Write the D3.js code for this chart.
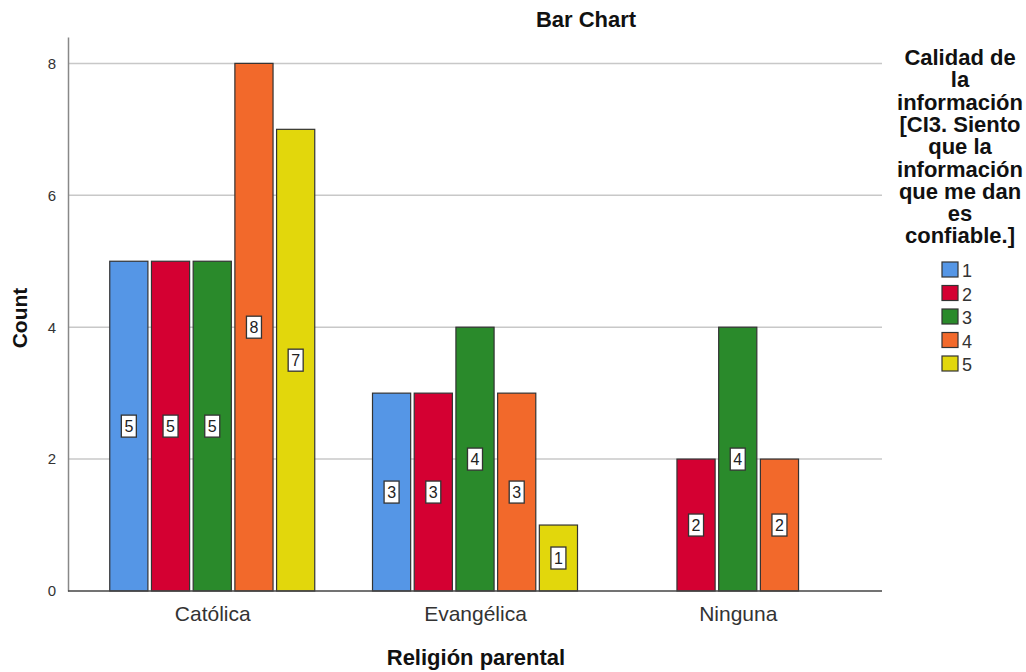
<!DOCTYPE html>
<html><head><meta charset="utf-8">
<script src="https://cdn.jsdelivr.net/npm/d3@7"></script>
<style>body{margin:0;background:#fff;font-family:Arial,"Liberation Sans",sans-serif}</style>
</head><body><svg id="c" width="1026" height="672"></svg>
<script>
const categories = ["Católica", "Evangélica", "Ninguna"];
const seriesKeys = ["1", "2", "3", "4", "5"];
const val1 = [5, 3, 0];
const val2 = [5, 3, 2];
const val3 = [5, 4, 4];
const val4 = [8, 3, 2];
const val5 = [7, 1, 0];
const colors = ["#5596E6", "#D40032", "#2A8A2B", "#F2692B", "#E2D70C"];
const yTicks = [0, 2, 4, 6, 8];
const legendTitle = ["Calidad de", "la", "información", "[CI3. Siento", "que la", "información", "que me dan", "es", "confiable.]"];

const FF = "Arial, 'Liberation Sans', sans-serif";
const values = [val1, val2, val3, val4, val5];
const svg = d3.select("#c");
const L = 68, R = 882, T = 37, B = 591;

const y = d3.scaleLinear().domain([0, 8.4]).range([B, T]);
const x = d3.scalePoint().domain(categories).range([L, R]).padding(0.549);
const sub = d3.scaleBand().domain(seriesKeys).range([-102.5, 102.5]).paddingInner(0.085);

// grid
svg.append("g").selectAll("line").data(yTicks.filter(d => d > 0)).join("line")
  .attr("x1", L).attr("x2", R).attr("y1", d => y(d)).attr("y2", d => y(d))
  .attr("stroke", "#c8c8c8").attr("stroke-width", 1.5);

// y axis
const ya = svg.append("g").attr("transform", `translate(${L},0)`)
  .call(d3.axisLeft(y).tickValues(yTicks).tickSize(0).tickPadding(12).tickFormat(d3.format("d")));
ya.select(".domain").attr("stroke", "#888").attr("stroke-width", 1.5);
ya.selectAll("text").attr("font-size", 15).attr("fill", "#333").attr("font-family", FF);

// bars
const flat = [];
categories.forEach((c, i) => seriesKeys.forEach((k, j) => {
  const v = values[j][i];
  if (v > 0) flat.push({c, k, j, v});
}));
svg.append("g").selectAll("rect").data(flat).join("rect")
  .attr("x", d => x(d.c) + sub(d.k))
  .attr("y", d => y(d.v))
  .attr("width", sub.bandwidth())
  .attr("height", d => y(0) - y(d.v))
  .attr("fill", d => colors[d.j])
  .attr("stroke", "#333").attr("stroke-width", 1.2);

// x axis
svg.append("line").attr("x1", L).attr("x2", R).attr("y1", B).attr("y2", B)
  .attr("stroke", "#444").attr("stroke-width", 1.5);
const xa = svg.append("g").attr("transform", `translate(0,${B})`)
  .call(d3.axisBottom(x).tickSize(0).tickPadding(15));
xa.select(".domain").remove();
xa.selectAll("text").attr("font-size", 21).attr("fill", "#333").attr("font-family", FF);

// value labels
const lab = svg.append("g").selectAll("g").data(flat).join("g")
  .attr("transform", d => `translate(${x(d.c) + sub(d.k) + sub.bandwidth()/2},${y(d.v/2)})`);
lab.append("rect").attr("x", -7.5).attr("y", -11).attr("width", 15).attr("height", 22)
  .attr("fill", "#fff").attr("stroke", "#333").attr("stroke-width", 1.3);
lab.append("text").attr("text-anchor", "middle").attr("dy", "0.36em")
  .attr("font-size", 16).attr("fill", "#222").text(d => d.v);

// title
svg.append("text").attr("x", 586).attr("y", 27).attr("text-anchor", "middle")
  .attr("font-size", 22).attr("font-weight", "bold").attr("fill", "#111").text("Bar Chart");
// axis titles
svg.append("text").attr("transform", `translate(27,${(T+B)/2 + 4}) rotate(-90)`).attr("text-anchor", "middle")
  .attr("font-size", 21).attr("font-weight", "bold").attr("fill", "#111").text("Count");
svg.append("text").attr("x", 476).attr("y", 665).attr("text-anchor", "middle")
  .attr("font-size", 22).attr("font-weight", "bold").attr("fill", "#111").text("Religión parental");

// legend
const lg = svg.append("g");
lg.selectAll("text").data(legendTitle).join("text")
  .attr("x", 960).attr("y", (d, i) => 65 + i * 22.3).attr("text-anchor", "middle")
  .attr("font-size", 22).attr("font-weight", "bold").attr("fill", "#111").text(d => d);
const li = lg.append("g").selectAll("g").data(seriesKeys).join("g")
  .attr("transform", (d, i) => `translate(942,${262 + i * 23.5})`);
li.append("rect").attr("width", 16).attr("height", 15)
  .attr("fill", (d, i) => colors[i]).attr("stroke", "#333").attr("stroke-width", 1.2);
li.append("text").attr("x", 20).attr("y", 15).attr("font-size", 18).attr("fill", "#333").text(d => d);
</script></body></html>
